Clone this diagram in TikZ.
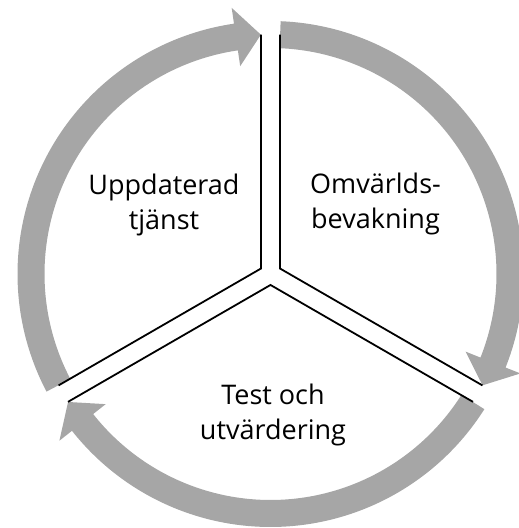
\documentclass[tikz,border=0pt]{standalone}
\usepackage{fontspec}
\setmainfont{Open Sans}
\usetikzlibrary{calc}
\definecolor{arrowgray}{RGB}{166,166,166}
\def\rOut{253}
\def\rIn{226}
\def\rMid{239.5}
\def\hOut{269}
\def\hIn{210}
\newcommand\cyclearrow[3]{%
  \fill[ringarrow] ($(C)+(#1:\rOut pt)$) arc[start angle=#1, end angle=#2, radius=\rOut pt]
    -- ($(C)+(#2:\hOut pt)$) -- ($(C)+(#3:\rMid pt)$) -- ($(C)+(#2:\hIn pt)$)
    -- ($(C)+(#2:\rIn pt)$) arc[start angle=#2, end angle=#1, radius=\rIn pt] -- cycle;}
\begin{document}
\begin{tikzpicture}[x=1pt,y=1pt,
  ringarrow/.style={fill=arrowgray, draw=none},
  divider/.style={draw=black, line width=1.8pt, line join=miter},
  steptext/.style={font=\fontsize{27}{35}\selectfont, align=center, inner sep=0pt, text=black}]
\useasboundingbox (0,0) rectangle (519,528);
\coordinate (C) at (270.5,254);
% arrows
\cyclearrow{87.7}{-21.7}{-27.7}
\cyclearrow{327.7}{218.3}{212.3}
\cyclearrow{207.7}{98.3}{92.3}
% divider points
\coordinate (vUL) at ($(C)+(150:10.97pt)$);
\coordinate (vUR) at ($(C)+(30:10.97pt)$);
\coordinate (vB) at ($(C)+(270:10.97pt)$);
\coordinate (eTL) at ($(C)+(92.27:\rMid pt)$);
\coordinate (eTR) at ($(C)+(87.73:\rMid pt)$);
\coordinate (eRU) at ($(C)+(-27.73:\rMid pt)$);
\coordinate (eRL) at ($(C)+(-32.27:\rMid pt)$);
\coordinate (eLU) at ($(C)+(207.73:\rMid pt)$);
\coordinate (eLL) at ($(C)+(212.27:\rMid pt)$);
\draw[divider] (eTL) -- (vUL) -- (eLU);
\draw[divider] (eTR) -- (vUR) -- (eRU);
\draw[divider] (eRL) -- (vB) -- (eLL);
% labels
\node[steptext] (upd) at (164,323) {Uppdaterad\\tjänst};
\node[steptext] (omv) at (375.5,324.5) {Omvärlds-\\bevakning};
\node[steptext] (test) at (273,113) {Test och\\utvärdering};
\end{tikzpicture}
\end{document}
